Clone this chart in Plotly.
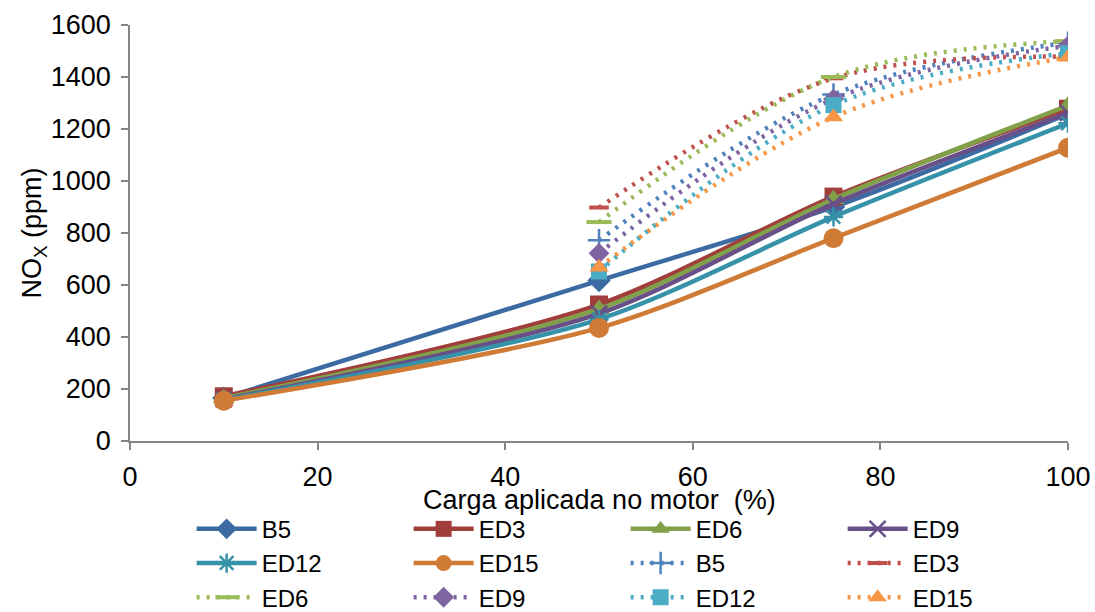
import plotly.graph_objects as go

# Engine load (%) and NOx emissions (ppm)
carga = [10, 50, 75, 100]
carga_alt = [50, 75, 100]

nox_b5 = [165, 617, 900, 1258]
nox_ed3 = [172, 525, 940, 1278]
nox_ed6 = [165, 508, 930, 1290]
nox_ed9 = [160, 490, 912, 1262]
nox_ed12 = [158, 468, 862, 1222]
nox_ed15 = [155, 435, 780, 1128]

nox_b5_alt = [772, 1333, 1532]
nox_ed3_alt = [898, 1395, 1478]
nox_ed6_alt = [842, 1400, 1538]
nox_ed9_alt = [722, 1315, 1520]
nox_ed12_alt = [652, 1292, 1492]
nox_ed15_alt = [668, 1246, 1476]

nomes = ["B5", "ED3", "ED6", "ED9", "ED12", "ED15"]
titulo_x = "Carga aplicada no motor  (%)"
titulo_y = "NO<sub>X</sub> (ppm)"

FONT = "Liberation Sans, Arial, sans-serif"
FS = 27

solid_series = [nox_b5, nox_ed3, nox_ed6, nox_ed9, nox_ed12, nox_ed15]
solid_colors = ["#3C6AA3", "#A03E3B", "#80A049", "#684F88", "#3692A9", "#CF7B36"]
solid_symbols = ["diamond", "square", "triangle-up", "x-thin", "asterisk", "circle"]
solid_sizes = [18, 18, 19, 16, 16, 20]

dot_series = [nox_b5_alt, nox_ed3_alt, nox_ed6_alt, nox_ed9_alt, nox_ed12_alt, nox_ed15_alt]
dot_colors = ["#4F81BD", "#C0504D", "#9BBB59", "#8064A2", "#4BACC6", "#F79646"]
dot_symbols = ["cross-thin", "line-ew", "line-ew", "diamond", "square", "triangle-up"]
dot_sizes = [16, 14, 18, 16, 16, 17]

fig = go.Figure()

for name, ys, c, sym, sz in zip(nomes, solid_series, solid_colors, solid_symbols, solid_sizes):
    thin = sym in ("x-thin", "asterisk")
    fig.add_trace(go.Scatter(
        x=carga, y=ys, name=name, mode="lines+markers",
        line=dict(color=c, width=4.5, shape="spline", smoothing=0.8),
        marker=dict(symbol=sym, size=sz, color=c,
                    line=dict(color=c, width=2.5 if thin else 0)),
    ))

for name, ys, c, sym, sz in zip(nomes, dot_series, dot_colors, dot_symbols, dot_sizes):
    lw = {"cross-thin": 2.5, "line-ew": 4}.get(sym, 0)
    fig.add_trace(go.Scatter(
        x=carga_alt, y=ys, name=name, mode="lines+markers",
        line=dict(color=c, width=4.5, shape="spline", smoothing=1, dash="3px,7px"),
        marker=dict(symbol=sym, size=sz, color=c, line=dict(color=c, width=lw)),
    ))

# x-axis title placed just under the tick labels
fig.add_annotation(
    text=titulo_x, xref="paper", yref="paper", x=0.5, y=0,
    xanchor="center", yanchor="top", yshift=-42, showarrow=False,
    font=dict(family=FONT, size=FS, color="black"),
)

fig.update_layout(
    width=1095, height=612,
    margin=dict(l=130, r=27, t=25, b=171, autoexpand=False),
    paper_bgcolor="white", plot_bgcolor="white",
    font=dict(family=FONT, size=FS, color="black"),
    showlegend=True,
    legend=dict(
        orientation="h", xref="container", x=0.175, xanchor="left",
        yref="container", y=0.172, yanchor="top",
        entrywidth=142, entrywidthmode="pixels", itemwidth=60,
        font=dict(family=FONT, size=24, color="black"),
        tracegroupgap=0, itemsizing="trace",
    ),
    xaxis=dict(
        range=[0, 100], tickvals=[0, 20, 40, 60, 80, 100],
        showgrid=False, zeroline=False,
        showline=True, linecolor="#868686", linewidth=1.5,
        ticks="outside", ticklen=7, tickcolor="#868686", tickwidth=1.5,
        tickfont=dict(size=FS), ticklabelstandoff=4,
    ),
    yaxis=dict(
        range=[0, 1600], tickvals=[0, 200, 400, 600, 800, 1000, 1200, 1400, 1600],
        showgrid=False, zeroline=False,
        showline=True, linecolor="#868686", linewidth=1.5,
        ticks="outside", ticklen=7, tickcolor="#868686", tickwidth=1.5,
        tickfont=dict(size=FS), ticklabelstandoff=5,
        title=dict(text=titulo_y, font=dict(size=FS), standoff=0),
    ),
)

fig.write_html("out.html")
